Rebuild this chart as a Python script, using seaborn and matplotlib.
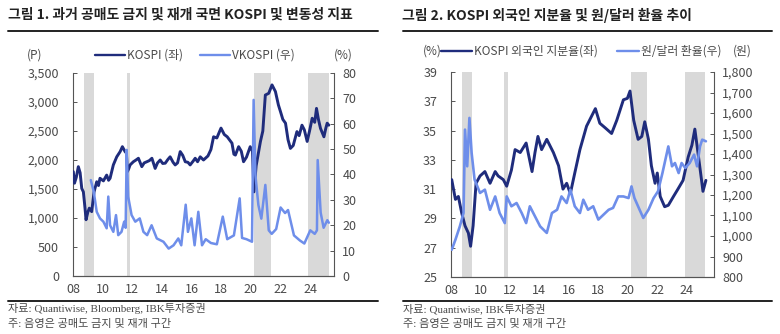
import matplotlib
matplotlib.use("Agg")
import matplotlib.pyplot as plt
import seaborn as sns
from matplotlib.lines import Line2D

sns.set_theme(style="white")
plt.rcParams['font.family'] = ['Noto Sans CJK KR', 'DejaVu Sans']

# ---------------- data ----------------
ban_periods = [(2008.75, 2009.42), (2011.61, 2011.86), (2020.20, 2021.33), (2023.85, 2025.25)]

kospi_t = [2008.02, 2008.10, 2008.22, 2008.36, 2008.48, 2008.59, 2008.70, 2008.81, 2008.88, 2009.00,
           2009.10, 2009.26, 2009.42, 2009.60, 2009.72, 2009.82, 2010.05, 2010.27, 2010.40, 2010.50,
           2010.72, 2010.95, 2011.18, 2011.33, 2011.51, 2011.60, 2011.67, 2011.76, 2011.85, 2012.07,
           2012.25, 2012.41, 2012.64, 2012.80, 2012.98, 2013.15, 2013.32, 2013.54, 2013.70, 2013.88,
           2014.05, 2014.22, 2014.40, 2014.55, 2014.75, 2014.89, 2015.05, 2015.23, 2015.40, 2015.57,
           2015.75, 2015.90, 2016.10, 2016.24, 2016.40, 2016.58, 2016.80, 2017.10, 2017.30, 2017.48,
           2017.70, 2017.98, 2018.20, 2018.40, 2018.72, 2018.85, 2018.95, 2019.17, 2019.35, 2019.50,
           2019.70, 2019.95, 2020.10, 2020.20, 2020.35, 2020.64, 2020.80, 2020.97, 2021.20, 2021.42,
           2021.65, 2021.85, 2021.99, 2022.15, 2022.33, 2022.50, 2022.66, 2022.85, 2023.10, 2023.25,
           2023.44, 2023.60, 2023.79, 2023.95, 2024.13, 2024.30, 2024.42, 2024.55, 2024.69, 2024.92,
           2025.05, 2025.14, 2025.25]
kospi_v = [1800, 1600, 1700, 1885, 1780, 1510, 1450, 1170, 970, 1100,
           1170, 1110, 1450, 1625, 1560, 1685, 1640, 1740, 1650, 1685,
           1915, 2055, 2145, 2230, 2145, 2120, 1800, 1850, 1915, 1970,
           2000, 2030, 1885, 1950, 1970, 1990, 2030, 1855, 1950, 2000,
           1940, 1945, 2010, 2055, 1960, 1915, 1950, 2145, 2080, 1970,
           1960, 1915, 1980, 2030, 1970, 2055, 2000, 2070, 2180, 2400,
           2380, 2550, 2440, 2400, 2290, 2100, 2085, 2230, 2150, 1970,
           2050, 2230, 2150, 1450, 1900, 2320, 2500, 3120, 3150, 3295,
           3180, 2950, 2835, 2700, 2635, 2350, 2200, 2250, 2490, 2420,
           2600, 2520, 2320, 2500, 2720, 2650, 2890, 2700, 2545, 2400,
           2550, 2635, 2600]

vkospi_t = [2009.20, 2009.40, 2009.60, 2009.82, 2010.05, 2010.27, 2010.38, 2010.50, 2010.72, 2010.90,
            2011.05, 2011.27, 2011.45, 2011.55, 2011.62, 2011.72, 2011.95, 2012.20, 2012.50, 2012.75,
            2013.00, 2013.30, 2013.65, 2014.10, 2014.45, 2014.78, 2015.10, 2015.30, 2015.60, 2015.75,
            2015.98, 2016.20, 2016.45, 2016.70, 2016.95, 2017.30, 2017.70, 2018.10, 2018.40, 2018.85,
            2019.24, 2019.40, 2019.70, 2020.07, 2020.18, 2020.30, 2020.50, 2020.70, 2020.97, 2021.20,
            2021.40, 2021.70, 2022.00, 2022.30, 2022.50, 2022.90, 2023.30, 2023.60, 2024.00, 2024.30,
            2024.45, 2024.50, 2024.70, 2024.90, 2025.15, 2025.25]
vkospi_v = [37.8, 33.2, 25.3, 22.7, 21.4, 18.8, 31.3, 20.0, 17.4, 24.0,
            16.1, 17.4, 21.4, 19.0, 49.7, 31.3, 24.0, 21.4, 22.7, 17.4,
            16.1, 20.0, 14.8, 13.5, 10.8, 12.1, 14.8, 12.1, 28.1, 17.4,
            22.7, 12.1, 25.3, 12.1, 14.5, 13.0, 12.5, 23.4, 14.5, 16.0,
            30.6, 15.0, 14.5, 13.5, 69.4, 39.8, 28.0, 22.6, 35.9, 18.0,
            16.6, 18.5, 27.0, 24.8, 26.0, 16.0, 14.0, 12.8, 18.0, 16.6,
            18.0, 45.7, 25.0, 19.0, 22.0, 21.0]

share_t = [2008.05, 2008.30, 2008.50, 2008.72, 2008.95, 2009.18, 2009.33, 2009.50, 2009.70, 2009.97,
           2010.30, 2010.65, 2011.00, 2011.20, 2011.55, 2011.78, 2012.10, 2012.35, 2012.70, 2013.10,
           2013.50, 2013.70, 2013.90, 2014.15, 2014.50, 2014.95, 2015.30, 2015.60, 2015.85, 2016.10,
           2016.40, 2016.75, 2017.20, 2017.80, 2018.10, 2018.45, 2018.90, 2019.25, 2019.70, 2019.97,
           2020.15, 2020.40, 2020.70, 2020.95, 2021.15, 2021.40, 2021.60, 2021.85, 2022.00, 2022.20,
           2022.50, 2022.75, 2023.10, 2023.40, 2023.75, 2024.10, 2024.35, 2024.55, 2024.80, 2025.00,
           2025.10, 2025.30]
share_v = [31.65, 30.3, 30.5, 29.4, 28.5, 28.0, 27.1, 28.5, 31.4, 31.9,
           32.2, 31.4, 32.2, 31.9, 31.65, 31.2, 32.3, 33.7, 33.5, 34.15,
           32.2, 33.5, 34.6, 33.7, 34.4, 33.5, 32.6, 31.0, 31.4, 30.7,
           32.1, 33.7, 35.3, 36.5, 35.5, 35.2, 34.8, 35.7, 37.1, 37.2,
           37.7, 35.7, 34.4, 34.6, 35.6, 34.4, 32.6, 31.4, 32.1, 30.5,
           29.8, 29.9, 30.5, 31.0, 31.6, 33.2, 34.0, 35.1, 33.2, 31.65,
           30.85, 31.6]

fx_t = [2008.05, 2008.30, 2008.60, 2008.85, 2008.95, 2009.10, 2009.25, 2009.40, 2009.60, 2009.97,
        2010.30, 2010.65, 2011.00, 2011.30, 2011.65, 2011.78, 2012.10, 2012.45, 2012.80, 2013.10,
        2013.35, 2013.70, 2014.05, 2014.50, 2014.85, 2015.20, 2015.50, 2015.85, 2016.10, 2016.40,
        2016.75, 2016.98, 2017.30, 2017.65, 2018.00, 2018.35, 2018.70, 2019.00, 2019.35, 2019.70,
        2020.05, 2020.25, 2020.45, 2020.80, 2021.05, 2021.40, 2021.75, 2022.05, 2022.35, 2022.75,
        2023.00, 2023.20, 2023.45, 2023.65, 2023.90, 2024.20, 2024.50, 2024.70, 2024.90, 2025.05,
        2025.30]
fx_v = [933, 982, 1047, 1112, 1519, 1340, 1576, 1405, 1275, 1210,
        1226, 1128, 1193, 1112, 1063, 1193, 1145, 1161, 1112, 1063,
        1145, 1096, 1047, 1015, 1112, 1128, 1193, 1161, 1226, 1145,
        1112, 1177, 1128, 1145, 1080, 1104, 1128, 1137, 1193, 1193,
        1185, 1242, 1185, 1128, 1088, 1128, 1185, 1218, 1307, 1437,
        1340, 1356, 1307, 1356, 1332, 1356, 1397, 1340, 1437, 1470,
        1462]

year_ticks = [2008, 2010, 2012, 2014, 2016, 2018, 2020, 2022, 2024]
year_labels = ['08', '10', '12', '14', '16', '18', '20', '22', '24']

# ---------------- style ----------------
DARK = '#1F2C7C'
LIGHT = '#6E8EEA'
SHADE = '#D9D9D9'
TXT = '#4A4A4A'
W, H = 780, 334

fig = plt.figure(figsize=(W / 100, H / 100), dpi=100)


def px_axes(x0, y0, x1, y1):
    return fig.add_axes([x0 / W, 1 - y1 / H, (x1 - x0) / W, (y1 - y0) / H])


def style_axes(ax, ax2):
    for a in (ax, ax2):
        a.spines['top'].set_visible(False)
        for s in ('left', 'right', 'bottom'):
            a.spines[s].set_color('#555555')
            a.spines[s].set_linewidth(0.8)
        a.tick_params(direction='in', length=3, width=0.7, color='#555555',
                      labelsize=9, labelcolor=TXT, pad=6)
        a.grid(False)
    ax.spines['right'].set_visible(False)
    ax2.spines['left'].set_visible(False)
    ax.tick_params(axis='y', pad=10)
    ax.tick_params(axis='x', pad=5)


def hline_px(x0, x1, y, lw=1.4):
    fig.add_artist(Line2D([x0 / W, x1 / W], [1 - y / H, 1 - y / H], color='#222222', lw=lw))


def legend_line(x0, x1, y, color):
    fig.add_artist(Line2D([x0 / W, x1 / W], [1 - y / H, 1 - y / H], color=color, lw=1.7))


def ftext(x, y, s, **kw):
    fig.text(x / W, 1 - y / H, s, **kw)


# ---------------- panel 1 ----------------
ax1 = px_axes(73, 73, 334, 276)
for a, b in ban_periods:
    ax1.axvspan(a, b, color=SHADE, lw=0, zorder=0)
sns.lineplot(x=kospi_t, y=kospi_v, ax=ax1, color=DARK, linewidth=2.1, zorder=3)
ax1b = ax1.twinx()
sns.lineplot(x=vkospi_t, y=vkospi_v, ax=ax1b, color=LIGHT, linewidth=1.8, zorder=3)
ax1.set_xlim(2008, 2025.6)
ax1.set_ylim(0, 3500)
ax1b.set_ylim(0, 80)
ax1.set_yticks(range(0, 3501, 500))
ax1.set_yticklabels([f'{v:,}' for v in range(0, 3501, 500)])
ax1b.set_yticks(range(0, 81, 10))
ax1.set_xticks(year_ticks)
ax1.set_xticklabels(year_labels)
style_axes(ax1, ax1b)

# ---------------- panel 2 ----------------
ax2 = px_axes(451, 72, 714, 277)
for a, b in ban_periods:
    ax2.axvspan(a, b, color=SHADE, lw=0, zorder=0)
ax2b = ax2.twinx()
sns.lineplot(x=fx_t, y=fx_v, ax=ax2b, color=LIGHT, linewidth=1.9, zorder=3)
sns.lineplot(x=share_t, y=share_v, ax=ax2, color=DARK, linewidth=2.1, zorder=3)
ax2.set_xlim(2008, 2025.85)
ax2.set_ylim(25, 39)
ax2.set_yticks(range(25, 40, 2))
ax2b.set_ylim(800, 1800)
ax2b.set_yticks(range(800, 1801, 100))
ax2b.set_yticklabels([f'{v:,}' for v in range(800, 1801, 100)])
ax2.set_xticks(year_ticks)
ax2.set_xticklabels(year_labels)
style_axes(ax2, ax2b)

# ---------------- titles / rules ----------------
ftext(8, 15, '그림 1. 과거 공매도 금지 및 재개 국면 KOSPI 및 변동성 지표', fontsize=10,
      fontweight='bold', color='#222222', va='center', ha='left')
ftext(402, 15, '그림 2. KOSPI 외국인 지분율 및 원/달러 환율 추이', fontsize=10,
      fontweight='bold', color='#222222', va='center', ha='left')
hline_px(8, 378, 31)
hline_px(403, 772, 31)
hline_px(8, 378, 301)
hline_px(403, 772, 301)

# legends panel 1
ftext(35, 55, '(P)', fontsize=8.5, color=TXT, ha='center', va='center')
legend_line(95, 125, 55, DARK)
ftext(127, 55, 'KOSPI (좌)', fontsize=8.5, color=TXT, ha='left', va='center')
legend_line(200, 230, 55, LIGHT)
ftext(232, 55, 'VKOSPI (우)', fontsize=8.5, color=TXT, ha='left', va='center')
ftext(343, 55, '(%)', fontsize=8.5, color=TXT, ha='center', va='center')

# legends panel 2
ftext(432, 51, '(%)', fontsize=8.5, color=TXT, ha='center', va='center')
legend_line(441, 472, 51, DARK)
ftext(474, 51, 'KOSPI 외국인 지분율(좌)', fontsize=8.5, color=TXT, ha='left', va='center')
legend_line(617, 639, 51, LIGHT)
ftext(641, 51, '원/달러 환율(우)', fontsize=8.5, color=TXT, ha='left', va='center')
ftext(742, 51, '(원)', fontsize=8.5, color=TXT, ha='center', va='center')

# sources / notes
src_font = ['Liberation Serif', 'Noto Sans CJK KR']
ftext(8, 309, '자료: Quantiwise, Bloomberg, IBK투자증권', fontsize=8, color=TXT,
      ha='left', va='center', family=src_font)
ftext(8, 324, '주: 음영은 공매도 금지 및 재개 구간', fontsize=8, color=TXT,
      ha='left', va='center', family=src_font)
ftext(403, 309, '자료: Quantiwise, IBK투자증권', fontsize=8, color=TXT,
      ha='left', va='center', family=src_font)
ftext(403, 324, '주: 음영은 공매도 금지 및 재개 구간', fontsize=8, color=TXT,
      ha='left', va='center', family=src_font)

fig.savefig('out.png', dpi=100)
